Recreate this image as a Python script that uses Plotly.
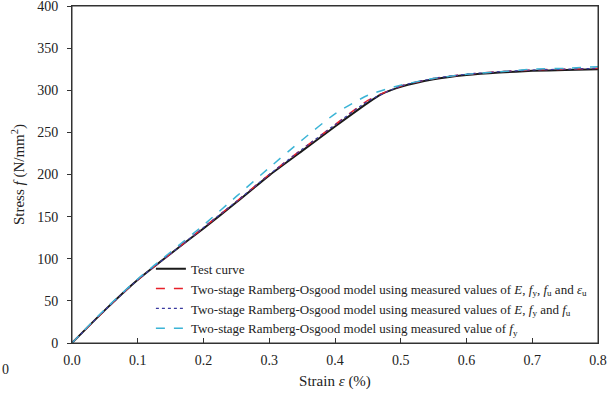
import plotly.graph_objects as go

strain_test = [0.0, 0.05, 0.1, 0.15, 0.2, 0.25, 0.3, 0.35, 0.4, 0.45, 0.47, 0.5, 0.55, 0.6, 0.65, 0.7, 0.75, 0.8]
stress_test = [0, 39, 75, 106, 136, 167, 199, 228, 257, 285, 295, 304, 313, 318, 321, 323, 324, 325]

strain_m1 = [0.0, 0.05, 0.1, 0.15, 0.2, 0.25, 0.3, 0.35, 0.4, 0.45, 0.5, 0.55, 0.6, 0.65, 0.7, 0.75, 0.8]
stress_m1 = [0, 39, 75, 106, 137, 168, 200, 230, 259, 288, 305, 314, 319, 322, 324, 325, 326]

strain_m2 = [0.0, 0.05, 0.1, 0.15, 0.2, 0.25, 0.3, 0.35, 0.4, 0.45, 0.5, 0.55, 0.6, 0.65, 0.7, 0.75, 0.8]
stress_m2 = [0, 39, 75, 106, 137, 168, 200, 230, 259, 287, 305, 314, 319, 322, 324, 325, 326]

strain_m3 = [0.0, 0.05, 0.1, 0.15, 0.2, 0.25, 0.3, 0.35, 0.4, 0.45, 0.5, 0.55, 0.6, 0.65, 0.7, 0.75, 0.8]
stress_m3 = [0, 40, 76, 108, 140, 174, 208, 241, 272, 294, 306, 314, 319, 322, 325, 326, 328]

names = [
    "Test curve",
    "Two-stage Ramberg-Osgood model using measured values of <i>E</i>, <i>f</i><sub>y</sub>, <i>f</i><sub>u</sub> and <i>ε</i><sub>u</sub>",
    "Two-stage Ramberg-Osgood model using measured values of <i>E</i>, <i>f</i><sub>y</sub> and <i>f</i><sub>u</sub>",
    "Two-stage Ramberg-Osgood model using measured value of <i>f</i><sub>y</sub>",
]

x_ticks = [0.0, 0.1, 0.2, 0.3, 0.4, 0.5, 0.6, 0.7, 0.8]
x_labels = ["0.0", "0.1", "0.2", "0.3", "0.4", "0.5", "0.6", "0.7", "0.8"]
y_ticks = [0, 50, 100, 150, 200, 250, 300, 350, 400]

fig = go.Figure()
fig.add_trace(go.Scatter(x=strain_test, y=stress_test, mode="lines", name=names[0],
                         line=dict(color="#1a1a1a", width=2, shape="spline", smoothing=0.6)))
fig.add_trace(go.Scatter(x=strain_m1, y=stress_m1, mode="lines", name=names[1],
                         line=dict(color="#e8202a", width=1.5, dash="dash", shape="spline", smoothing=0.6)))
fig.add_trace(go.Scatter(x=strain_m2, y=stress_m2, mode="lines", name=names[2],
                         line=dict(color="#3a3aa0", width=1.2, dash="dot", shape="spline", smoothing=0.6)))
fig.add_trace(go.Scatter(x=strain_m3, y=stress_m3, mode="lines", name=names[3],
                         line=dict(color="#3bb4d6", width=1.5, dash="dash", shape="spline", smoothing=0.6)))

font_family = "Liberation Serif"
fig.update_layout(
    width=616, height=399,
    margin=dict(l=72, r=18, t=6, b=56, autoexpand=False),
    paper_bgcolor="white", plot_bgcolor="white",
    font=dict(family=font_family, size=14, color="#222"),
    showlegend=True,
    legend=dict(x=0.15, y=0.265, xanchor="left", yanchor="top",
                bgcolor="rgba(0,0,0,0)", font=dict(size=13, family=font_family),
                tracegroupgap=0, itemwidth=30),
    xaxis=dict(range=[0, 0.8], tickvals=x_ticks, ticktext=x_labels, automargin=False,
               showgrid=False, zeroline=False, showline=True, linecolor="#333",
               linewidth=1, mirror=True, ticks="inside", ticklen=5, tickcolor="#333",
               tickfont=dict(size=14), ticklabelstandoff=4,
               title=dict(text="Strain <i>ε</i> (%)", font=dict(size=15), standoff=8)),
    yaxis=dict(range=[0, 400], tickvals=y_ticks, automargin=False,
               showgrid=False, zeroline=False, showline=True, linecolor="#333",
               linewidth=1, mirror=True, ticks="outside", ticklen=4, tickcolor="#333",
               tickfont=dict(size=14), ticklabelstandoff=6, ticklabeloverflow="allow",
               title=dict(text="Stress <i>f</i> (N/mm<sup>2</sup>)", font=dict(size=15), standoff=8)),
    shapes=[dict(type="rect", xref="paper", yref="paper", x0=0, x1=1, y0=0, y1=1,
                 line=dict(color="#333", width=1), fillcolor="rgba(0,0,0,0)", layer="above")],
)
fig.add_annotation(text="0", xref="paper", yref="paper", x=-0.1368, y=-0.08,
                   xanchor="left", yanchor="middle", showarrow=False,
                   font=dict(size=14, family=font_family, color="#222"))

fig.write_html("out.html")
